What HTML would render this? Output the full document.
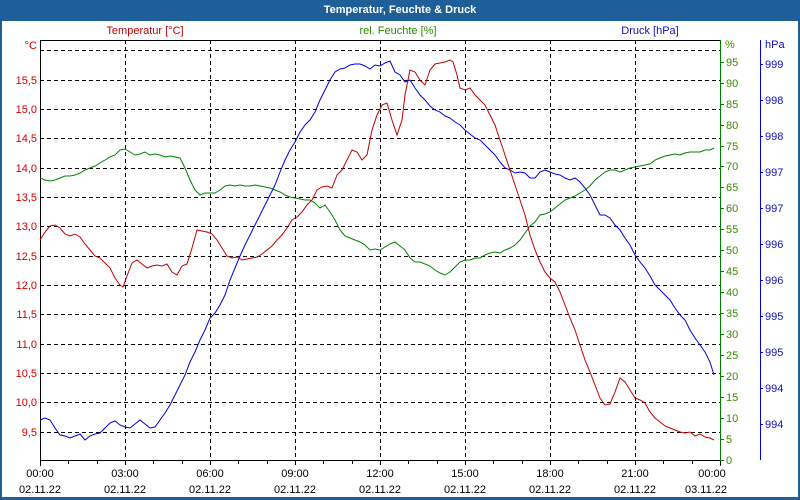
<!DOCTYPE html>
<html><head><meta charset="utf-8"><style>
body{margin:0;width:800px;height:500px;overflow:hidden;background:#fff}
svg{display:block}
text{font-family:"Liberation Sans",sans-serif;font-size:11px}
</style></head><body>
<svg width="800" height="500" viewBox="0 0 800 500">
<rect x="0" y="0" width="800" height="500" fill="#1f5f99"/>
<rect x="2" y="21" width="796" height="476" fill="#fff"/>
<text x="400" y="13" text-anchor="middle" fill="#fff" font-weight="bold">Temperatur, Feuchte &amp; Druck</text>
<text x="145" y="34" text-anchor="middle" fill="#c00000">Temperatur [°C]</text>
<text x="398" y="34" text-anchor="middle" fill="#2a8a00">rel. Feuchte [%]</text>
<text x="650" y="34" text-anchor="middle" fill="#1010c0">Druck [hPa]</text>
<g stroke="#000" stroke-dasharray="4,3" stroke-width="1">
<line x1="40" y1="50.5" x2="720" y2="50.5"/><line x1="40" y1="80.5" x2="720" y2="80.5"/><line x1="40" y1="109.5" x2="720" y2="109.5"/><line x1="40" y1="138.5" x2="720" y2="138.5"/><line x1="40" y1="168.5" x2="720" y2="168.5"/><line x1="40" y1="197.5" x2="720" y2="197.5"/><line x1="40" y1="226.5" x2="720" y2="226.5"/><line x1="40" y1="256.5" x2="720" y2="256.5"/><line x1="40" y1="285.5" x2="720" y2="285.5"/><line x1="40" y1="314.5" x2="720" y2="314.5"/><line x1="40" y1="344.5" x2="720" y2="344.5"/><line x1="40" y1="373.5" x2="720" y2="373.5"/><line x1="40" y1="402.5" x2="720" y2="402.5"/><line x1="40" y1="432.5" x2="720" y2="432.5"/>
<line x1="125.5" y1="40" x2="125.5" y2="460"/><line x1="210.5" y1="40" x2="210.5" y2="460"/><line x1="295.5" y1="40" x2="295.5" y2="460"/><line x1="380.5" y1="40" x2="380.5" y2="460"/><line x1="465.5" y1="40" x2="465.5" y2="460"/><line x1="550.5" y1="40" x2="550.5" y2="460"/><line x1="635.5" y1="40" x2="635.5" y2="460"/>
</g>
<line x1="40" y1="40.5" x2="720" y2="40.5" stroke="#000"/>
<line x1="40.5" y1="40" x2="40.5" y2="466" stroke="#000"/>
<line x1="40" y1="460.5" x2="720" y2="460.5" stroke="#000"/>
<line x1="720.5" y1="40" x2="720.5" y2="466" stroke="#008000"/>
<line x1="760.5" y1="40" x2="760.5" y2="460" stroke="#0000d0"/>
<g stroke="#000">
<path d="M40.5 460v5M68.5 460v4M97.5 460v4M125.5 460v5M153.5 460v4M182.5 460v4M210.5 460v5M238.5 460v4M267.5 460v4M295.5 460v5M323.5 460v4M352.5 460v4M380.5 460v5M408.5 460v4M437.5 460v4M465.5 460v5M493.5 460v4M522.5 460v4M550.5 460v5M578.5 460v4M607.5 460v4M635.5 460v5M663.5 460v4M692.5 460v4M720.5 460v5"/>
</g>
<g fill="#000" text-anchor="middle">
<text x="40" y="477">00:00</text><text x="40" y="493">02.11.22</text>
<text x="125" y="477">03:00</text><text x="125" y="493">02.11.22</text>
<text x="210" y="477">06:00</text><text x="210" y="493">02.11.22</text>
<text x="295" y="477">09:00</text><text x="295" y="493">02.11.22</text>
<text x="380" y="477">12:00</text><text x="380" y="493">02.11.22</text>
<text x="465" y="477">15:00</text><text x="465" y="493">02.11.22</text>
<text x="550" y="477">18:00</text><text x="550" y="493">02.11.22</text>
<text x="635" y="477">21:00</text><text x="635" y="493">02.11.22</text>
<text x="712" y="477">00:00</text><text x="706" y="493">03.11.22</text>
</g>
<g fill="#d00000" text-anchor="end">
<text x="37" y="49">°C</text>
<text x="37" y="84">15,5</text><text x="37" y="113">15,0</text><text x="37" y="142">14,5</text><text x="37" y="172">14,0</text><text x="37" y="201">13,5</text><text x="37" y="230">13,0</text><text x="37" y="260">12,5</text><text x="37" y="289">12,0</text><text x="37" y="318">11,5</text><text x="37" y="348">11,0</text><text x="37" y="377">10,5</text><text x="37" y="406">10,0</text><text x="37" y="436">9,5</text>
</g>
<g stroke="#008000"><path d="M720 460.5h4M720 439.5h4M720 418.5h4M720 397.5h4M720 376.5h4M720 355.5h4M720 334.5h4M720 313.5h4M720 292.5h4M720 271.5h4M720 250.5h4M720 229.5h4M720 208.5h4M720 187.5h4M720 166.5h4M720 146.5h4M720 125.5h4M720 104.5h4M720 83.5h4M720 62.5h4"/></g>
<g fill="#3a8a00">
<text x="725" y="48">%</text>
<text x="726" y="464">0</text><text x="726" y="443">5</text><text x="726" y="422">10</text><text x="726" y="401">15</text><text x="726" y="380">20</text><text x="726" y="359">25</text><text x="726" y="338">30</text><text x="726" y="317">35</text><text x="726" y="296">40</text><text x="726" y="275">45</text><text x="726" y="254">50</text><text x="726" y="233">55</text><text x="726" y="212">60</text><text x="726" y="191">65</text><text x="726" y="170">70</text><text x="726" y="150">75</text><text x="726" y="129">80</text><text x="726" y="108">85</text><text x="726" y="87">90</text><text x="726" y="66">95</text>
</g>
<g stroke="#0000d0"><path d="M760 64.5h3M760 100.5h3M760 136.5h3M760 172.5h3M760 208.5h3M760 244.5h3M760 280.5h3M760 316.5h3M760 352.5h3M760 388.5h3M760 424.5h3"/></g>
<g fill="#1010c0">
<text x="765" y="48">hPa</text>
<text x="765" y="68">999</text><text x="765" y="104">998</text><text x="765" y="140">998</text><text x="765" y="176">997</text><text x="765" y="212">997</text><text x="765" y="248">996</text><text x="765" y="284">996</text><text x="765" y="320">995</text><text x="765" y="356">995</text><text x="765" y="392">994</text><text x="765" y="428">994</text>
</g>
<g fill="none" stroke-width="1">
<polyline stroke="#008000" points="40,178 45,180 50,181 55,180 60,178 65,176 70,176 75,175 80,173 85,170 90,168 95,166 100,163 105,160 110,157 115,155 120,150 125,149 130,152 135,155 140,154 145,152 150,155 155,154 160,155 165,157 170,156 175,157 180,158 185,168 190,180 195,190 200,195 205,193 210,193 215,193 220,190 225,186 230,185 235,186 240,185 245,186 250,186 255,185 260,186 265,187 270,188 275,190 280,192 285,195 290,197 295,198 300,199 305,200 310,200 315,203 320,208 325,205 330,212 335,220 340,230 345,236 350,238 355,240 360,242 365,245 370,250 375,249 380,250 385,247 390,244 395,242 400,246 405,250 410,258 415,262 420,262 425,264 430,266 435,270 440,273 445,275 450,272 455,267 460,262 465,260 470,260 475,258 480,258 485,255 490,253 495,252 500,253 505,250 510,248 515,245 520,240 525,233 530,226 535,222 540,215 545,214 550,212 555,208 560,204 565,200 570,198 575,196 580,193 585,190 590,186 595,180 600,176 605,172 610,170 615,170 620,172 625,170 630,168 635,167 640,166 645,165 650,164 655,160 660,158 665,156 670,155 675,154 680,155 685,153 690,152 695,152 700,152 705,150 710,150 714,148"/>
<polyline stroke="#0000e0" points="40,420 45,418 50,420 55,428 60,435 65,436 70,438 75,436 80,434 85,440 90,436 95,434 100,433 105,428 110,423 115,421 120,425 125,427 130,428 135,424 140,420 145,424 150,428 155,427 160,420 165,413 170,405 175,395 180,385 185,375 190,362 195,352 200,340 205,330 210,318 215,313 220,305 225,295 230,280 235,268 240,256 245,245 250,235 255,225 260,215 265,205 270,195 275,185 280,172 285,160 290,150 295,142 300,132 305,125 310,120 315,112 320,100 325,90 330,80 335,72 340,69 345,68 350,65 355,64 360,64 365,66 370,69 375,65 380,66 385,63 390,61 395,72 400,75 405,82 410,80 415,88 420,95 425,100 430,106 435,110 440,112 445,116 450,118 455,122 460,125 465,130 470,134 475,138 480,140 485,145 490,150 495,155 500,162 505,168 510,170 515,173 520,172 525,173 530,178 535,178 540,172 545,170 550,172 555,174 560,175 565,178 570,180 575,178 580,182 585,188 590,195 595,205 600,215 605,215 610,218 615,225 620,230 625,238 630,245 635,255 640,262 645,268 650,276 655,285 660,290 665,295 670,300 675,308 680,315 685,320 690,330 695,338 700,345 705,352 710,362 714,375"/>
<polyline stroke="#c00000" points="40,240 45,232 50,226 55,225 60,228 65,234 70,236 75,234 80,237 85,244 90,250 95,256 100,258 105,263 110,268 115,278 120,285 123,287 127,276 132,263 137,260 142,264 147,268 152,266 157,265 162,266 167,264 172,272 177,275 182,266 187,264 192,248 197,230 202,231 207,232 212,234 217,240 222,248 227,256 232,258 237,257 242,260 247,259 252,258 257,257 262,254 267,250 272,246 277,240 282,235 287,228 292,220 297,217 302,212 307,205 312,200 317,190 322,187 327,186 332,188 337,175 342,170 347,160 352,150 357,152 362,160 367,155 372,130 377,115 382,105 387,103 392,120 397,135 402,120 405,95 410,70 415,72 420,80 425,85 430,70 435,64 440,63 445,62 450,60 453,62 457,75 460,88 465,90 470,88 475,95 480,100 485,105 490,115 495,125 500,140 505,155 510,170 515,185 520,200 525,215 530,235 535,250 540,262 545,272 550,278 555,282 560,292 565,305 570,318 575,330 580,345 585,360 590,372 595,385 600,398 605,405 610,404 615,392 620,378 625,382 630,390 635,398 640,400 645,403 650,412 655,418 660,422 665,426 670,428 675,430 680,432 685,433 690,432 695,436 700,434 705,437 710,438 714,440"/>
</g>
</svg>
</body></html>
